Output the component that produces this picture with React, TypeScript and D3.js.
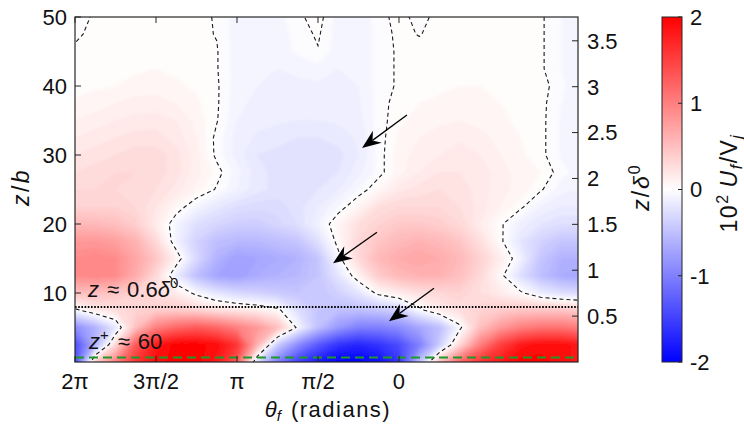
import React from "react";
import * as d3 from "d3";

const PI = Math.PI;

// Field grid: columns are theta_f / pi, rows are z/b
const thetaGridPi = [2, 1.875, 1.75, 1.625, 1.5, 1.375, 1.25, 1.125, 1, 0.875, 0.75, 0.625, 0.5, 0.375, 0.25, 0.125, 0, -0.125, -0.25, -0.375, -0.5, -0.625, -0.75, -0.875, -1, -1.125];
const zGrid = [0, 2.5, 5, 7.5, 10, 12.5, 15, 17.5, 20, 22.5, 25, 27.5, 30, 32.5, 35, 37.5, 40, 42.5, 45, 47.5, 50];

// 10^2 U_f / V_j, one row per zGrid value
const uField = [
  [-1.4, 0.4, 1.0, 1.6, 1.9, 2.0, 2.0, 1.8, 1.3, -0.3, -1.0, -1.5, -1.8, -2.0, -2.0, -1.9, -1.6, -0.5, 0.5, 1.2, 1.6, 1.8, 2.0, 2.0, 1.9, 1.8],
  [-1.4, -0.6, 0.3, 1.3, 1.8, 2.0, 2.0, 1.9, 1.6, 0.6, -0.4, -0.9, -1.3, -1.6, -1.7, -1.6, -1.4, -1.0, -0.4, 0.3, 1.0, 1.5, 1.8, 1.9, 1.9, 1.8],
  [-0.9, -0.6, -0.2, 0.5, 1.0, 1.2, 1.3, 1.2, 1.0, 0.8, 0.5, -0.05, -0.5, -0.8, -1.0, -1.0, -0.9, -0.7, -0.5, -0.05, 0.5, 0.8, 1.0, 1.1, 1.1, 1.0],
  [-0.05, 0.15, 0.25, 0.35, 0.4, 0.4, 0.35, 0.25, 0.2, 0.15, 0.05, -0.25, -0.45, -0.5, -0.5, -0.45, -0.35, -0.05, 0.15, 0.25, 0.35, 0.4, 0.45, 0.45, 0.45, 0.4],
  [0.5, 0.5, 0.45, 0.35, 0.25, 0.15, -0.05, -0.2, -0.3, -0.35, -0.4, -0.45, -0.45, -0.35, -0.2, 0.05, 0.15, 0.25, 0.3, 0.35, 0.25, 0.15, 0.03, -0.15, -0.25, -0.3],
  [0.9, 0.95, 0.9, 0.65, 0.3, -0.15, -0.5, -0.7, -0.75, -0.65, -0.6, -0.55, -0.45, -0.2, 0.1, 0.4, 0.55, 0.6, 0.6, 0.5, 0.3, 0.05, -0.25, -0.5, -0.65, -0.7],
  [0.9, 0.95, 0.9, 0.7, 0.45, 0.1, -0.3, -0.6, -0.75, -0.7, -0.65, -0.6, -0.45, -0.05, 0.3, 0.55, 0.65, 0.7, 0.65, 0.55, 0.35, 0.15, -0.1, -0.45, -0.6, -0.6],
  [0.8, 0.8, 0.75, 0.6, 0.3, -0.1, -0.35, -0.5, -0.55, -0.55, -0.5, -0.45, -0.25, 0.05, 0.3, 0.45, 0.55, 0.6, 0.55, 0.45, 0.25, 0.03, -0.2, -0.35, -0.45, -0.45],
  [0.55, 0.55, 0.5, 0.38, 0.15, -0.08, -0.25, -0.32, -0.38, -0.38, -0.32, -0.25, -0.1, 0.08, 0.25, 0.35, 0.42, 0.42, 0.38, 0.3, 0.15, 0.02, -0.12, -0.2, -0.25, -0.25],
  [0.35, 0.35, 0.35, 0.3, 0.2, 0.06, -0.08, -0.18, -0.25, -0.28, -0.28, -0.22, -0.15, -0.05, 0.08, 0.25, 0.3, 0.3, 0.3, 0.25, 0.18, 0.1, 0.02, -0.1, -0.15, -0.15],
  [0.3, 0.3, 0.3, 0.28, 0.25, 0.18, 0.08, -0.01, -0.1, -0.18, -0.22, -0.22, -0.2, -0.15, -0.05, 0.06, 0.18, 0.22, 0.25, 0.22, 0.18, 0.12, 0.08, 0.01, -0.08, -0.1],
  [0.25, 0.28, 0.3, 0.3, 0.28, 0.22, 0.12, 0.03, -0.08, -0.18, -0.22, -0.25, -0.22, -0.2, -0.12, -0.03, 0.08, 0.15, 0.2, 0.2, 0.18, 0.12, 0.08, 0.05, -0.03, -0.08],
  [0.2, 0.22, 0.25, 0.28, 0.28, 0.22, 0.12, -0.02, -0.12, -0.2, -0.22, -0.25, -0.25, -0.22, -0.15, -0.03, 0.08, 0.12, 0.15, 0.18, 0.15, 0.1, 0.06, 0.02, -0.06, -0.1],
  [0.15, 0.18, 0.2, 0.22, 0.22, 0.18, 0.1, -0.02, -0.12, -0.16, -0.18, -0.2, -0.2, -0.18, -0.14, -0.03, 0.06, 0.1, 0.12, 0.14, 0.12, 0.08, 0.05, 0.02, -0.06, -0.1],
  [0.1, 0.12, 0.15, 0.17, 0.18, 0.15, 0.08, 0.005, -0.1, -0.13, -0.14, -0.15, -0.15, -0.14, -0.12, -0.03, 0.04, 0.07, 0.09, 0.1, 0.08, 0.06, 0.04, 0.02, -0.06, -0.1],
  [0.06, 0.08, 0.1, 0.12, 0.12, 0.1, 0.06, 0.01, -0.09, -0.11, -0.12, -0.12, -0.12, -0.12, -0.11, -0.03, 0.03, 0.05, 0.06, 0.07, 0.06, 0.05, 0.03, 0.02, -0.05, -0.09],
  [0.03, 0.04, 0.05, 0.07, 0.08, 0.06, 0.04, 0.01, -0.08, -0.1, -0.11, -0.11, -0.11, -0.11, -0.1, -0.03, 0.01, 0.03, 0.04, 0.05, 0.05, 0.04, 0.03, 0.03, -0.04, -0.09],
  [0.02, 0.03, 0.04, 0.04, 0.05, 0.04, 0.03, 0.005, -0.08, -0.1, -0.1, -0.09, -0.07, -0.1, -0.1, -0.03, 0.01, 0.02, 0.03, 0.03, 0.03, 0.03, 0.02, 0.01, -0.05, -0.09],
  [0.01, 0.02, 0.03, 0.03, 0.03, 0.03, 0.02, 0.005, -0.08, -0.1, -0.08, -0.04, -0.005, -0.08, -0.1, -0.03, 0.01, 0.02, 0.02, 0.03, 0.03, 0.02, 0.02, 0.01, -0.05, -0.09],
  [-0.01, 0.015, 0.02, 0.025, 0.025, 0.025, 0.015, -0.003, -0.08, -0.1, -0.08, -0.03, 0.01, -0.08, -0.1, -0.03, 0.015, -0.003, 0.02, 0.03, 0.03, 0.02, 0.02, 0.01, -0.05, -0.09],
  [-0.03, 0.01, 0.02, 0.02, 0.02, 0.02, 0.015, -0.005, -0.08, -0.1, -0.07, -0.015, 0.03, -0.08, -0.1, -0.02, 0.02, -0.02, 0.02, 0.03, 0.03, 0.02, 0.02, 0.01, -0.05, -0.09],
];

const xTickPi = [2, 1.5, 1, 0.5, 0];
const xTickLabels = ["2π", "3π/2", "π", "π/2", "0"];
const zTicks = [10, 20, 30, 40, 50];
const deltaTicks = [0.5, 1, 1.5, 2, 2.5, 3, 3.5];
const cbTicks = [-2, -1, 0, 1, 2];
const bPerDelta = 13.3; // z/b per delta0
const dottedDelta = 0.6;
const greenZ = 0.65;
// arrows: start and tip in (theta/pi, z/b)
const arrowThetaStart = [-0.049, 0.136, -0.216];
const arrowZStart = [35.8, 18.8, 10.7];
const arrowThetaTip = [0.228, 0.407, 0.062];
const arrowZTip = [31.0, 14.3, 5.9];

const L = 75, R = 578, T = 17, B = 362;
const CBX0 = 662, CBX1 = 682;
const FONT = "'Liberation Sans', Arial, sans-serif";
const AX = "#262626";
const FS = 22;
const FSS = 15;

export default function App() {
  const xScale = d3.scaleLinear().domain([2 * PI, -1.105 * PI]).range([L, R]);
  const zScale = d3.scaleLinear().domain([0, 50]).range([B, T]);
  const dScale = d3.scaleLinear().domain([0, 50 / bPerDelta]).range([B, T]);
  const cbScale = d3.scaleLinear().domain([-2, 2]).range([B, T]);
  const color = d3.scaleLinear<string>().domain([-2, 0, 2]).range(["#0000ff", "#ffffff", "#ff0000"]).clamp(true);

  const n = thetaGridPi.length;
  const m = zGrid.length;
  const values: number[] = [];
  for (let j = 0; j < m; j++) for (let i = 0; i < n; i++) values.push(uField[j][i]);

  const gx = d3.scaleLinear().domain([0.5, n - 0.5]).range([xScale(thetaGridPi[0] * PI), xScale(thetaGridPi[n - 1] * PI)]);
  const gy = d3.scaleLinear().domain([0.5, m - 0.5]).range([zScale(zGrid[0]), zScale(zGrid[m - 1])]);
  const proj = d3.geoTransform({
    point: function (x: number, y: number) {
      (this as any).stream.point(gx(x), gy(y));
    },
  });
  const path = d3.geoPath(proj);

  const step = 0.05;
  const thresholds = d3.range(-2.2, 2.2001, step);
  const bands = d3.contours().size([n, m]).thresholds(thresholds)(values);
  const zero = d3.contours().size([n, m]).thresholds([0])(values)[0];

  const arrows = arrowThetaStart.map((t, k) => {
    const x0 = xScale(t * PI), y0 = zScale(arrowZStart[k]);
    const x1 = xScale(arrowThetaTip[k] * PI), y1 = zScale(arrowZTip[k]);
    const ang = Math.atan2(y1 - y0, x1 - x0);
    const ux = Math.cos(ang), uy = Math.sin(ang);
    const px = -uy, py = ux;
    const Lh = 19, Wh = 7.5, notch = 13;
    const bx = x1 - ux * Lh, by = y1 - uy * Lh;
    const nx = x1 - ux * notch, ny = y1 - uy * notch;
    const head = `M${x1},${y1} L${bx + px * Wh},${by + py * Wh} L${nx},${ny} L${bx - px * Wh},${by - py * Wh} Z`;
    return { x0, y0, nx, ny, head };
  });

  const txt = { fontFamily: FONT, fill: "#111" } as React.CSSProperties;

  return (
    <svg width={744} height={426} style={{ display: "block", position: "absolute", left: 0, top: 0, fontFamily: FONT }}>
      <defs>
        <clipPath id="plotClip">
          <rect x={L} y={T} width={R - L} height={B - T} />
        </clipPath>
        <filter id="soft" x="-5%" y="-5%" width="110%" height="110%">
          <feGaussianBlur stdDeviation="1.4 1.0" />
        </filter>
        <linearGradient id="cbGrad" x1="0" y1="1" x2="0" y2="0">
          <stop offset="0%" stopColor={color(-2)} />
          <stop offset="50%" stopColor={color(0)} />
          <stop offset="100%" stopColor={color(2)} />
        </linearGradient>
      </defs>
      <rect x={0} y={0} width={744} height={426} fill="#fff" />

      <g clipPath="url(#plotClip)">
        <g filter="url(#soft)">
          <rect x={L - 20} y={T - 20} width={R - L + 40} height={B - T + 40} fill={color(-2.2)} />
          {bands.map((c, k) => (
            <path key={k} d={path(c as any) || ""} fill={color(c.value + step / 2)} stroke="none" />
          ))}
        </g>
        <path d={path(zero as any) || ""} fill="none" stroke="#1a1a1a" strokeWidth={1.1} strokeDasharray="4 3" />
        <line x1={L} x2={R} y1={dScale(dottedDelta)} y2={dScale(dottedDelta)} stroke="#000" strokeWidth={2} strokeDasharray="1.6 1.6" />
        <line x1={L} x2={R} y1={zScale(greenZ)} y2={zScale(greenZ)} stroke="#1f9a2a" strokeWidth={2.2} strokeDasharray="9 5" />
      </g>

      {arrows.map((a, k) => (
        <g key={k}>
          <line x1={a.x0} y1={a.y0} x2={a.nx} y2={a.ny} stroke="#000" strokeWidth={1.3} />
          <path d={a.head} fill="#000" />
        </g>
      ))}

      <text x={88} y={297} fontSize={FS} style={txt}>
        <tspan fontStyle="italic">z</tspan>
        <tspan dx={8}>≈</tspan>
        <tspan dx={8}>0.6</tspan>
        <tspan fontStyle="italic">δ</tspan>
        <tspan dy={-9} fontSize={FSS}>0</tspan>
      </text>
      <text x={89} y={349} fontSize={FS} style={txt}>
        <tspan fontStyle="italic">z</tspan>
        <tspan dy={-9} fontSize={FSS}>+</tspan>
        <tspan dy={9} dx={9}>≈</tspan>
        <tspan dx={8}>60</tspan>
      </text>

      {/* frame */}
      <rect x={L} y={T} width={R - L} height={B - T} fill="none" stroke={AX} strokeWidth={1.2} />
      {xTickPi.map((t, k) => (
        <g key={k}>
          <line x1={xScale(t * PI)} x2={xScale(t * PI)} y1={B} y2={B - 6} stroke={AX} strokeWidth={1} />
          <line x1={xScale(t * PI)} x2={xScale(t * PI)} y1={T} y2={T + 6} stroke={AX} strokeWidth={1} />
          <text x={xScale(t * PI)} y={389} fontSize={FS} textAnchor="middle" style={txt}>{xTickLabels[k]}</text>
        </g>
      ))}
      {zTicks.map((z) => (
        <g key={z}>
          <line x1={L} x2={L + 6} y1={zScale(z)} y2={zScale(z)} stroke={AX} strokeWidth={1} />
          <text x={67} y={zScale(z)} dy="0.36em" fontSize={FS} textAnchor="end" style={txt}>{z}</text>
        </g>
      ))}
      {deltaTicks.map((d) => (
        <g key={d}>
          <line x1={R} x2={R - 6} y1={dScale(d)} y2={dScale(d)} stroke={AX} strokeWidth={1} />
          <text x={587} y={dScale(d)} dy="0.36em" fontSize={FS} textAnchor="start" style={txt}>{d}</text>
        </g>
      ))}

      {/* axis labels */}
      <text x={328} y={417} fontSize={22} textAnchor="middle" style={txt}>
        <tspan fontStyle="italic">θ</tspan>
        <tspan fontStyle="italic" fontSize={15} dy={4}>f</tspan>
        <tspan dy={-4} dx={10} letterSpacing={1.5}>(radians)</tspan>
      </text>
      <text transform="translate(29,187) rotate(-90)" fontSize={23} textAnchor="middle" letterSpacing={2.5} style={txt}>
        <tspan fontStyle="italic">z</tspan>
        <tspan>/</tspan>
        <tspan fontStyle="italic">b</tspan>
      </text>
      <text transform="translate(649,187) rotate(-90)" fontSize={23} textAnchor="middle" letterSpacing={2} style={txt}>
        <tspan fontStyle="italic">z</tspan>
        <tspan>/</tspan>
        <tspan fontStyle="italic">δ</tspan>
        <tspan dy={-9} fontSize={16}>0</tspan>
      </text>

      {/* colorbar */}
      <rect x={CBX0} y={T} width={CBX1 - CBX0} height={B - T} fill="url(#cbGrad)" stroke={AX} strokeWidth={1} />
      {cbTicks.map((v) => (
        <g key={v}>
          <line x1={CBX1} x2={CBX1 - 4} y1={cbScale(v)} y2={cbScale(v)} stroke={AX} strokeWidth={1} />
          <text x={690} y={cbScale(v)} dy="0.36em" fontSize={FS} textAnchor="start" style={txt}>{v}</text>
        </g>
      ))}
      <text transform="translate(737,183) rotate(-90)" fontSize={23} textAnchor="middle" letterSpacing={1.5} style={txt}>
        <tspan>10</tspan>
        <tspan dy={-9} fontSize={16}>2</tspan>
        <tspan dy={9} dx={6} fontStyle="italic">U</tspan>
        <tspan fontStyle="italic" fontSize={16} dy={5}>f</tspan>
        <tspan dy={-5}>/V</tspan>
        <tspan fontStyle="italic" fontSize={16} dy={5}>j</tspan>
      </text>
    </svg>
  );
}
